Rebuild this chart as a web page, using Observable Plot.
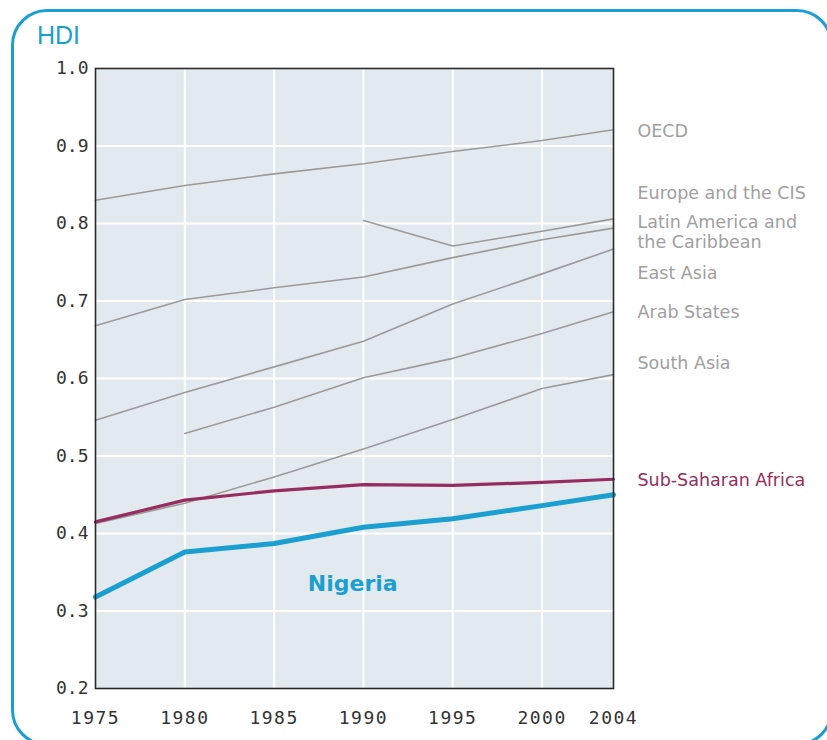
<!DOCTYPE html>
<html>
<head>
<meta charset="utf-8">
<script src="https://cdn.jsdelivr.net/npm/d3@7"></script>
<script src="https://cdn.jsdelivr.net/npm/@observablehq/plot@0.6"></script>
<style>
  html, body { margin: 0; padding: 0; background: #fff; overflow: hidden; }
  #wrap { position: relative; width: 827px; height: 740px; overflow: hidden; }
  #border { position: absolute; left: 11px; top: 9px; width: 822px; height: 737px; box-sizing: border-box;
            border: 3px solid #1a9fd4; border-radius: 36px; }
  #title { position: absolute; left: 37px; top: 21px; font-family: "Liberation Sans", Arial, sans-serif;
           font-size: 25px; color: #1a9fd4; }
  #chart { position: absolute; left: 0; top: 0; }
  g[aria-label="x-axis tick label"] text { letter-spacing: 1.5px; }
</style>
</head>
<body>
<div id="wrap">
  <div id="border"></div>
  <div id="title">HDI</div>
  <div id="chart"></div>
</div>
<script>
const years = [1975, 1980, 1985, 1990, 1995, 2000, 2004];
const oecd        = [0.830, 0.849, 0.864, 0.877, 0.893, 0.907, 0.921];
const europeCIS   = [null,  null,  null,  0.804, 0.771, 0.790, 0.806];
const latinAm     = [0.668, 0.702, 0.717, 0.731, 0.756, 0.779, 0.794];
const eastAsia    = [0.546, 0.582, 0.615, 0.648, 0.696, 0.735, 0.767];
const arabStates  = [null,  0.529, 0.563, 0.601, 0.626, 0.658, 0.686];
const southAsia   = [0.413, 0.439, 0.473, 0.509, 0.547, 0.587, 0.605];
const subSaharan  = [0.415, 0.443, 0.455, 0.463, 0.462, 0.466, 0.470];
const nigeria     = [0.318, 0.376, 0.387, 0.408, 0.419, 0.436, 0.450];

const regionNames = ["OECD", "Europe and the CIS", "Latin America and\nthe Caribbean", "East Asia", "Arab States", "South Asia", "Sub-Saharan Africa"];
const labelValues = [0.920, 0.840, 0.790, 0.737, 0.686, 0.621, 0.470];
const xTicks = [1975, 1980, 1985, 1990, 1995, 2000, 2004];
const yTicks = [0.2, 0.3, 0.4, 0.5, 0.6, 0.7, 0.8, 0.9, 1.0];
const nigeriaLabel = {text: "Nigeria", year: 1989.4, value: 0.335};

const grayRegions = [
  ["OECD", oecd], ["Europe and the CIS", europeCIS], ["Latin America", latinAm],
  ["East Asia", eastAsia], ["Arab States", arabStates], ["South Asia", southAsia]
];
const toRows = (name, vals) => years.map((y, i) => ({name, year: y, value: vals[i]}));
const grayRows = grayRegions.flatMap(([n, v]) => toRows(n, v));
const ssaRows = toRows("Sub-Saharan Africa", subSaharan);
const ngaRows = toRows("Nigeria", nigeria);
const labels = regionNames.map((t, i) => ({text: t, value: labelValues[i], ssa: t === "Sub-Saharan Africa"}));

const chart = Plot.plot({
  width: 827,
  height: 740,
  marginLeft: 95,
  marginRight: 214,
  marginTop: 68,
  marginBottom: 52,
  x: {domain: [1975, 2004]},
  y: {domain: [0.2, 1.0]},
  style: {background: "transparent", overflow: "visible"},
  marks: [
    Plot.frame({fill: "#e2eaf0", stroke: null}),
    Plot.gridX([1980, 1985, 1990, 1995, 2000], {stroke: "#fff", strokeOpacity: 1, strokeWidth: 2}),
    Plot.gridY([0.3, 0.4, 0.5, 0.6, 0.7, 0.8, 0.9], {stroke: "#fff", strokeOpacity: 1, strokeWidth: 2}),
    Plot.line(grayRows, {x: "year", y: "value", z: "name", stroke: "#9a9a9a", strokeWidth: 1.6}),
    Plot.line(ssaRows, {x: "year", y: "value", stroke: "#962d5e", strokeWidth: 3.2}),
    Plot.line(ngaRows, {x: "year", y: "value", stroke: "#1a9fd0", strokeWidth: 5, strokeLinejoin: "round"}),
    Plot.frame({stroke: "#2a2a2a", strokeWidth: 1.6}),
    Plot.axisX({ticks: xTicks, tickFormat: d => String(d), tickSize: 0, tickPadding: 23, label: null,
      fontFamily: "DejaVu Sans Mono", fontSize: 18, fill: "#333"}),
    Plot.axisY({ticks: yTicks, tickFormat: d => d.toFixed(1), tickSize: 0, tickPadding: 7, label: null,
      fontFamily: "DejaVu Sans Mono", fontSize: 18, fill: "#333"}),
    Plot.text(labels, {x: () => 2004, y: "value", text: "text", dx: 24, textAnchor: "start", lineAnchor: "middle",
      lineHeight: 1.15, fontFamily: "DejaVu Sans", fontSize: 17.5, fill: d => d.ssa ? "#962d5e" : "#a0a0a0"}),
    Plot.text([nigeriaLabel], {x: "year", y: "value", text: "text", fontFamily: "DejaVu Sans", fontWeight: "bold",
      fontSize: 22, fill: "#1a9fd0"})
  ]
});
document.getElementById("chart").appendChild(chart);
</script>
</body>
</html>
